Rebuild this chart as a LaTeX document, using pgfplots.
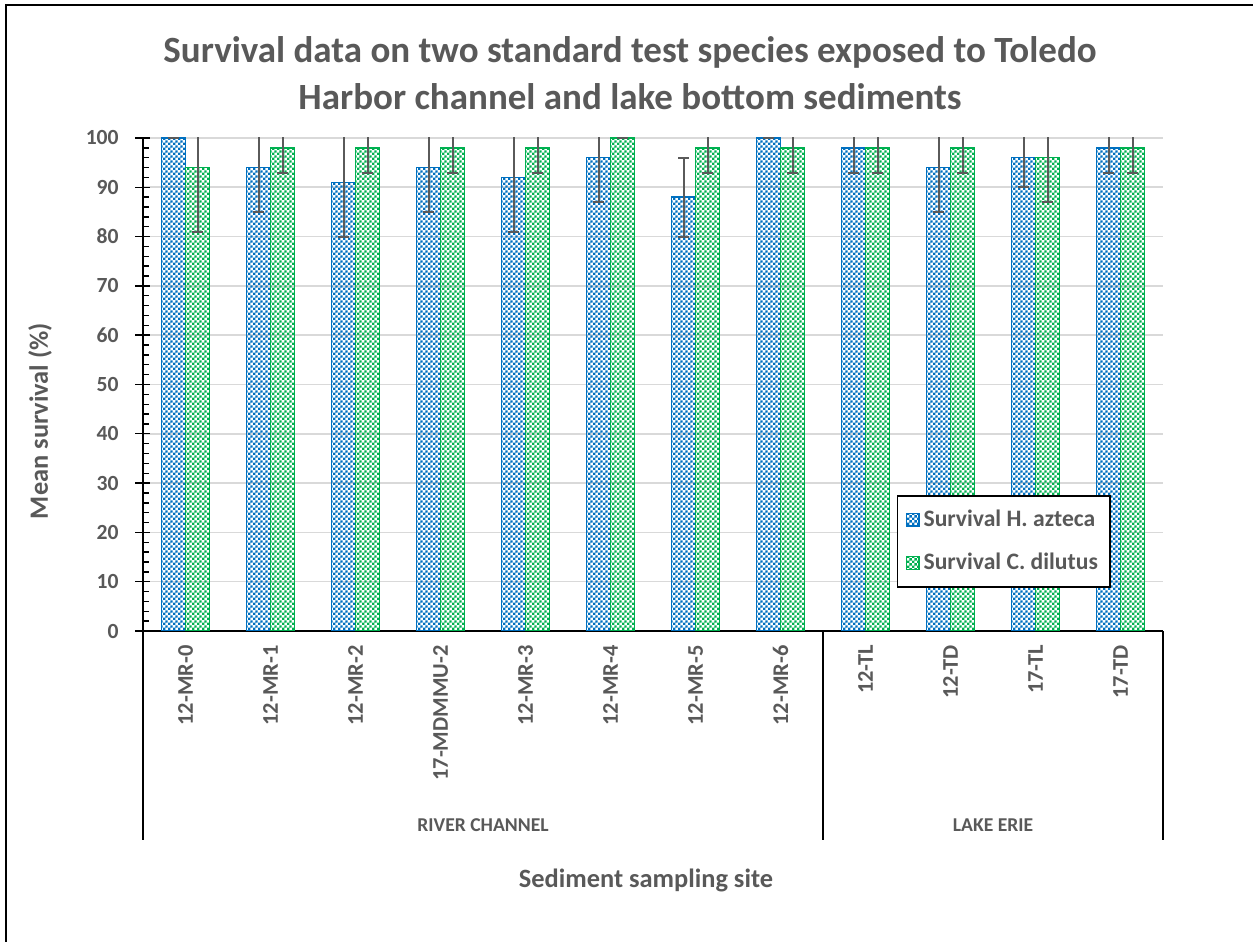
\documentclass[border=0pt]{standalone}
\usepackage{fontspec}
\setmainfont{Carlito}
\usepackage{pgfplots}
\pgfplotsset{compat=1.18}
\usetikzlibrary{patterns}
\definecolor{xblue}{HTML}{0070C0}
\definecolor{xgreen}{HTML}{00B050}
\definecolor{txt}{HTML}{595959}
\definecolor{grd}{HTML}{D9D9D9}
\definecolor{err}{HTML}{5A5A5A}
\pgfdeclarepatternformonly{checker}{\pgfqpoint{0pt}{0pt}}{\pgfqpoint{2.4pt}{2.4pt}}{\pgfqpoint{2.4pt}{2.4pt}}{%
 \pgfpathrectangle{\pgfqpoint{0pt}{0pt}}{\pgfqpoint{1.2pt}{1.2pt}}%
 \pgfpathrectangle{\pgfqpoint{1.2pt}{1.2pt}}{\pgfqpoint{1.2pt}{1.2pt}}%
 \pgfusepath{fill}}
\begin{document}
\begin{tikzpicture}
\useasboundingbox (0,0) rectangle (626.5pt,471pt);
\fill[white] (0,0) rectangle (626.5pt,471pt);
\draw[line width=0.75pt] (3pt,0pt) -- (3pt,468.5pt) -- (626.5pt,468.5pt);
\begin{axis}[
  at={(71.5pt,155.5pt)}, anchor=south west,
  scale only axis, width=510pt, height=246.5pt,
  ybar=0pt, bar width=12pt,
  xmin=-0.5, xmax=11.5, ymin=0, ymax=100,
  enlargelimits=false,
  axis x line*=bottom, axis y line*=left,
  axis line style={-, black, line width=0.8pt},
  xtick={0,...,11},
  xticklabels={12-MR-0,12-MR-1,12-MR-2,17-MDMMU-2,12-MR-3,12-MR-4,12-MR-5,12-MR-6,12-TL,12-TD,17-TL,17-TD},
  x tick style={draw=none},
  x tick label style={rotate=90, anchor=east, inner sep=0pt, font=\fontsize{11.2}{13}\selectfont\bfseries, text=txt},
  xticklabel shift=7pt,
  ytick={0,10,...,100},
  minor y tick num=4,
  tick align=inside,
  major tick length=3.5pt, minor tick length=3pt,
  y tick style={black, line width=0.7pt},
  extra y ticks={0,10,...,100},
  extra y tick labels={},
  extra y tick style={grid=none, tick align=outside, major tick length=4pt},
  y tick label style={inner sep=0pt, font=\fontsize{10.8}{12}\selectfont\bfseries, text=txt},
  yticklabel shift=12pt,
  /pgf/number format/assume math mode=true,
  ymajorgrids, grid style={grd, line width=0.8pt},
  legend style={at={(0.739,0.276)}, anchor=north west, draw=black, line width=0.8pt,
    font=\fontsize{11.8}{13}\selectfont\bfseries, text=txt, row sep=8pt,
    inner xsep=4pt, inner ysep=5pt, cells={anchor=west}},
  legend image code/.code={\draw[#1, line width=0.6pt] (0pt,-3.2pt) rectangle (6.4pt,3.2pt);},
]
\addplot[draw=xblue, line width=0.75pt, pattern=checker, pattern color=xblue,
  error bars/.cd, y dir=both, y explicit,
  error bar style={err, line width=1pt},
  error mark options={err, line width=1pt, mark size=2.75pt, rotate=90}]
coordinates {(0,100) +- (0,0) (1,94) +- (0,9) (2,91) +- (0,11) (3,94) +- (0,9)
  (4,92) +- (0,11) (5,96) +- (0,9) (6,88) +- (0,8) (7,100) +- (0,0)
  (8,98) +- (0,5) (9,94) +- (0,9) (10,96) +- (0,6) (11,98) +- (0,5)};
\addlegendentry{Survival H. azteca}
\addplot[draw=xgreen, line width=0.75pt, pattern=checker, pattern color=xgreen,
  error bars/.cd, y dir=both, y explicit,
  error bar style={err, line width=1pt},
  error mark options={err, line width=1pt, mark size=2.75pt, rotate=90}]
coordinates {(0,94) +- (0,13) (1,98) +- (0,5) (2,98) +- (0,5) (3,98) +- (0,5)
  (4,98) +- (0,5) (5,100) +- (0,0) (6,98) +- (0,5) (7,98) +- (0,5)
  (8,98) +- (0,5) (9,98) +- (0,5) (10,96) +- (0,9) (11,98) +- (0,5)};
\addlegendentry{Survival C. dilutus}
\end{axis}
\draw[black, line width=0.8pt] (71.5pt,155.5pt) -- (71.5pt,51pt);
\draw[black, line width=0.8pt] (411.5pt,155.5pt) -- (411.5pt,51pt);
\draw[black, line width=0.8pt] (581.5pt,155.5pt) -- (581.5pt,51pt);
\node[font=\fontsize{18.5}{23.5}\selectfont\bfseries, text=txt, align=center] at (315pt,434.5pt)
  {Survival data on two standard test species exposed to Toledo\\Harbor channel and lake bottom sediments};
\node[rotate=90, font=\fontsize{13.2}{15}\selectfont\bfseries, text=txt] at (20pt,260.5pt) {Mean survival (\%)};
\node[font=\fontsize{13.2}{15}\selectfont\bfseries, text=txt] at (323pt,31pt) {Sediment sampling site};
\node[font=\fontsize{9.8}{11}\selectfont\bfseries, text=txt] at (241.5pt,58.5pt) {RIVER CHANNEL};
\node[font=\fontsize{9.8}{11}\selectfont\bfseries, text=txt] at (496.5pt,58.5pt) {LAKE ERIE};
\end{tikzpicture}
\end{document}
